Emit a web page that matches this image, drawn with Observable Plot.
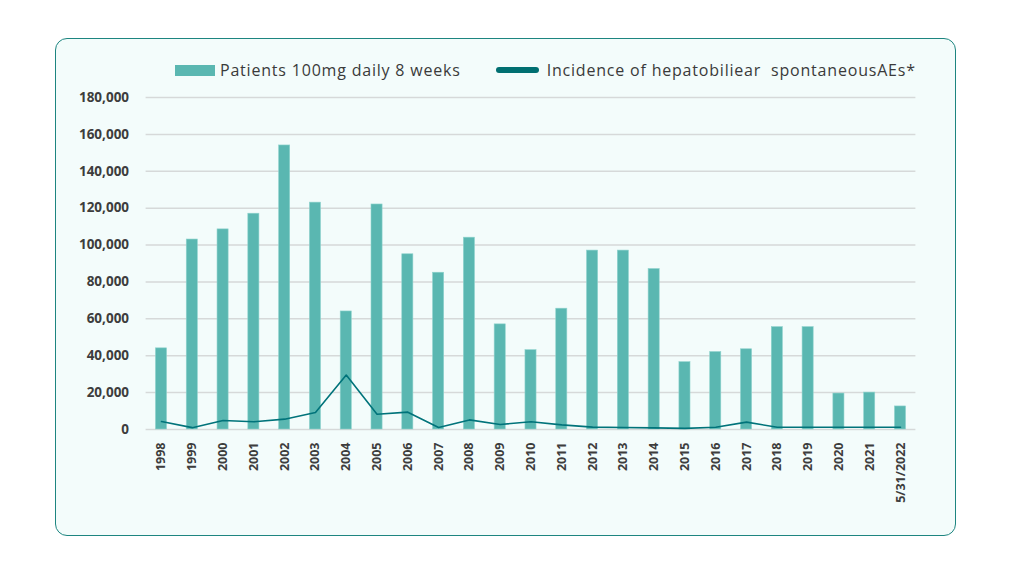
<!DOCTYPE html>
<html>
<head>
<meta charset="utf-8">
<script src="https://cdn.jsdelivr.net/npm/d3@7"></script>
<script src="https://cdn.jsdelivr.net/npm/@observablehq/plot@0.6"></script>
<style>
  html, body { margin: 0; padding: 0; background: #ffffff; }
  #wrap { position: relative; width: 1024px; height: 576px; overflow: hidden; }
  #panel { position: absolute; left: 55px; top: 38px; width: 899px; height: 496px;
           border: 1.5px solid #1d8580; border-radius: 12px; background: #f3fcfb; }
  #legend { position: absolute; top: 59px; left: 175px; display: flex; align-items: center;
            font-family: "Open Sans", sans-serif; font-size: 16px; letter-spacing: 0.8px; color: #3a3a3a; white-space: pre; }
  .sw-bar { width: 40px; height: 11px; background: #5ab7b1; margin-right: 5px; }
  .sw-line { width: 43px; height: 6px; border-radius: 3px; background: #006f71; margin-left: 35px; margin-right: 8px; }
  #chart { position: absolute; left: 0; top: 0; }
</style>
</head>
<body>
<div id="wrap">
  <div id="panel"></div>
  <div id="chart"></div>
  <div id="legend"><div class="sw-bar"></div><span>Patients 100mg daily 8 weeks</span><div class="sw-line"></div><span>Incidence of hepatobiliear  spontaneousAEs*</span></div>
</div>
<script>
const years = ["1998","1999","2000","2001","2002","2003","2004","2005","2006","2007","2008","2009","2010","2011","2012","2013","2014","2015","2016","2017","2018","2019","2020","2021","5/31/2022"];
const patients = [44000,103000,108500,117000,154000,123000,64000,122000,95000,85000,104000,57000,43000,65500,97000,97000,87000,36500,42000,43500,55500,55500,19500,20000,12500];
const incidence = [4300,1000,4900,4200,5600,9200,29500,8300,9400,1100,5200,2700,4200,2500,1300,1100,900,600,1200,4000,1200,1200,1200,1200,1200];
const yTicks = [0,20000,40000,60000,80000,100000,120000,140000,160000,180000];

const data = years.map((y, i) => ({year: y, patients: patients[i], incidence: incidence[i]}));

const chart = Plot.plot({
  width: 1024,
  height: 576,
  marginLeft: 145.6,
  marginRight: 108.6,
  marginTop: 97,
  marginBottom: 147,
  style: {background: "transparent", fontFamily: "'Open Sans', sans-serif", fontWeight: 700, fontSize: "13px", color: "#3d3d3d"},
  x: {domain: years, paddingInner: 0.64, paddingOuter: 0.32, round: false, label: null},
  y: {domain: [0, 180000], label: null},
  marks: [
    Plot.ruleY(yTicks, {stroke: "#d6d9d9", strokeWidth: 1.5}),
    Plot.barY(data, {x: "year", y: "patients", fill: "#5ab7b1", stroke: "#8fd3cd", strokeWidth: 0.6}),
    Plot.line(data, {x: "year", y: "incidence", stroke: "#00737a", strokeWidth: 1.6}),
    Plot.axisY({ticks: yTicks, tickSize: 0, tickPadding: 17, tickFormat: d3.format(","), fontSize: 13.5, fontWeight: 700, style: {letterSpacing: "0.5px"}}),
    Plot.axisX({tickSize: 0, tickPadding: 13, tickRotate: -90, fontSize: 12.5, fontWeight: 700, style: {letterSpacing: "0.3px"}})
  ]
});
document.getElementById("chart").appendChild(chart);
</script>
</body>
</html>
